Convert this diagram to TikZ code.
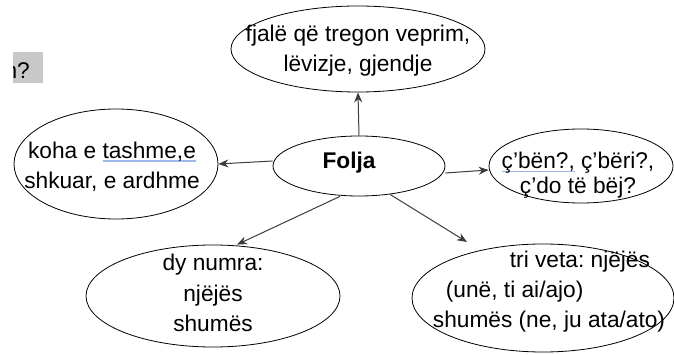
\documentclass[tikz,border=0pt]{standalone}
\usepackage{fontspec}
\setmainfont{Liberation Sans}
\usetikzlibrary{shapes.geometric,arrows.meta}
\frenchspacing

\definecolor{linegray}{HTML}{3C3C3C}
\definecolor{boxgray}{HTML}{C8C8C8}
\definecolor{spellblue}{HTML}{9DB9EA}

\newcommand{\spellline}[1]{\setbox0\hbox{#1}\rlap{\color{spellblue}\rule[-3.5pt]{\wd0}{1.3pt}}\box0\relax}

\begin{document}
\begin{tikzpicture}[x=1pt,y=-1pt,
	bubble/.style={ellipse,draw=black,line width=0.8pt,inner sep=0pt},
	txt/.style={inner sep=0pt,align=center,font=\fontsize{22.7pt}{30pt}\selectfont},
	conn/.style={->,draw=linegray,line width=1pt,>={Stealth[length=10pt,width=8pt]}}]
	\useasboundingbox (0,0) rectangle (674,355);
	%The grey box cut at the left edge
	\begin{scope}
		\fill[boxgray] (13,52) rectangle (43,83);
		\clip (13,52) rectangle (43,83);
		\node[txt,anchor=base east] (cut) at (30,79) {n?};
	\end{scope}
	%Draw the ellipses
	\node[bubble,minimum width=254pt,minimum height=86pt] (def) at (358,49) {};
	\node[bubble,minimum width=204pt,minimum height=110pt] (koha) at (116,164) {};
	\node[bubble,minimum width=172pt,minimum height=60pt] (folja) at (359,166) {};
	\node[bubble,minimum width=184pt,minimum height=74pt] (act) at (581,166) {};
	\node[bubble,minimum width=254pt,minimum height=102pt] (numra) at (213,296) {};
	\node[bubble,minimum width=262pt,minimum height=108pt] (veta) at (543,298) {};
	%Put the texts in them
	\node[txt] (deftext) at (358,51) {fjalë që tregon veprim,\\lëvizje, gjendje};
	\node[txt] (kohatext) at (112,166.5) {koha e \spellline{tashme,e}\\shkuar, e ardhme};
	\node[txt,font=\fontsize{22.7pt}{30pt}\selectfont\bfseries] (foljatext) at (349,162.5) {Folja};
	\node[txt] (acttext) at (578,175) {\spellline{ç’bën?,} ç’bëri?,\\[-5pt]ç’do të bëj?};
	\node[txt] (numratext) at (213,293) {dy numra:\\[1pt]njëjës\\shumës};
	\node[txt,align=left] (vetatext) at (549,291.5) {\hspace*{77pt}tri veta: njëjës\\\hspace*{13pt}(unë, ti ai/ajo)\\shumës (ne, ju ata/ato)};
	%Free end of the last arrow
	\coordinate (vetatip) at (467,242);
	%Draw the arrows out of the centre
	\draw[conn] (folja.north) -- (def.south);
	\draw[conn] ([yshift=5pt]folja.west) -- (koha.east);
	\draw[conn] ([yshift=-7pt]folja.east) -- ([yshift=-4pt]act.west);
	\draw[conn] ([xshift=-19pt]folja.south) -- ([xshift=24pt]numra.north);
	\draw[conn] ([xshift=31pt,yshift=2pt]folja.south) -- (vetatip);
\end{tikzpicture}
\end{document}
